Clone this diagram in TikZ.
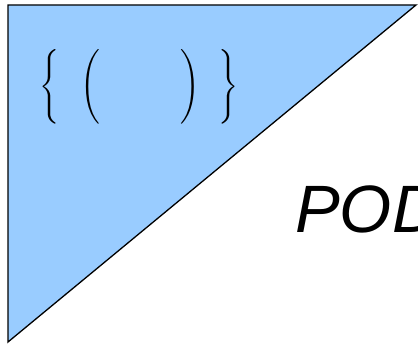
\documentclass[tikz,border=0pt]{standalone}
\usepackage{fontspec}
\setmainfont{Liberation Sans}
\usepackage{amsmath}
\usepackage{xcolor}
\definecolor{lightsky}{HTML}{99CCFF}

\begin{document}
\begin{tikzpicture}[x=1pt, y=-1pt,
  delim/.style={inner sep=0pt, outer sep=0pt,
    font=\fontsize{26}{30}\selectfont}]

  % 画面范围
  \useasboundingbox (0,0) rectangle (418,347);
  \clip (0,0) rectangle (418,347);

  % 蓝色直角三角形
  \fill[lightsky] (8,5) -- (416,5) -- (8,342) -- cycle;
  \draw[line width=1.3pt, line join=miter]
    (8,5) -- (416,5) -- (8,342) -- cycle;

  % 括号
  \node[delim] (brace-l) at (50,87) {$\Bigg\{$};
  \node[delim] (paren-l) at (90,87) {$\Bigg($};
  \node[delim] (paren-r) at (190,87) {$\Bigg)$};
  \node[delim] (brace-r) at (229,87) {$\Bigg\}$};

  % 文字
  \node[inner sep=0pt, anchor=base west,
    font=\fontsize{67}{70}\selectfont\itshape]
    (pod) at (295,233) {POD};

\end{tikzpicture}
\end{document}
